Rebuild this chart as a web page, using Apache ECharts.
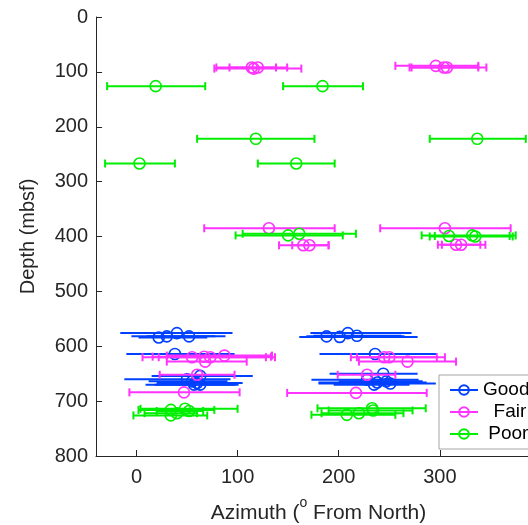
<!DOCTYPE html>
<html>
<head>
<meta charset="utf-8">
<script src="https://cdn.jsdelivr.net/npm/echarts@6/dist/echarts.min.js"></script>
<style>html,body{margin:0;padding:0;background:#fff}#c{width:528px;height:525px}</style>
</head>
<body>
<div id="c"></div>
<script>
// [azimuth, depth, lower, upper]
const goodData = [
  [22, 584, 2, 70], [30, 582, -5, 78], [40, 576, -16, 95], [52, 582, 10, 88],
  [188, 582, 168, 265], [201, 583, 161, 278], [209, 576, 172, 272], [218, 581, 175, 262],
  [38, 614, -10, 97], [236, 614, 181, 297],
  [63, 654, 15, 115], [50, 660, -12, 93], [55, 664, 12, 90], [57, 670, 9, 101], [63, 670, 18, 98], [60, 667, 20, 105],
  [244, 650, 191, 278], [228, 661, 173, 279], [238, 666, 180, 287], [251, 668, 180, 296], [235, 670, 195, 270], [247, 664, 200, 283]
];
const fairData = [
  [114, 92, 79, 149], [120, 92, 92, 138], [116, 94, 77, 163],
  [296, 89, 256, 338], [304, 92, 270, 346], [307, 92, 272, 338],
  [131, 385, 67, 196], [305, 385, 241, 370],
  [165, 416, 141, 190], [171, 416, 154, 190], [316, 415, 298, 340], [321, 415, 302, 345],
  [55, 620, 6, 137], [67, 619, 16, 133], [73, 620, 22, 128], [87, 617, 30, 134], [68, 628, 30, 109],
  [245, 620, 212, 305], [250, 620, 218, 297], [268, 628, 220, 316],
  [60, 652, 23, 97], [228, 652, 199, 256],
  [47, 684, -7, 102], [217, 685, 149, 287]
];
const poorData = [
  [19, 126, -29, 68], [184, 126, 145, 224],
  [118, 222, 60, 176], [337, 222, 290, 385],
  [3, 267, -31, 38], [158, 267, 120, 196],
  [150, 398, 98, 204], [161, 395, 105, 217],
  [309, 399, 295, 369], [332, 398, 282, 375], [335, 400, 290, 372],
  [34, 716, 2, 77], [34, 726, -3, 70], [48, 714, 4, 100], [52, 718, 20, 66], [40, 722, 8, 60],
  [208, 725, 173, 256], [220, 722, 183, 264], [233, 713, 179, 286], [234, 717, 190, 273]
];
const seriesNames = ['Good', '  Fair', ' Poor'];
const seriesColors = ['#0040ff', '#ff33ff', '#00ee00'];
const xTicks = [0, 100, 200, 300];
const yTicks = [0, 100, 200, 300, 400, 500, 600, 700, 800];

const groups = [goodData, fairData, poorData];
const caps = [false, true, true];
const txt = '#262626';
const font = 'Liberation Sans, Arial, Helvetica, sans-serif';

const series = [];
groups.forEach((d, i) => {
  const col = seriesColors[i];
  series.push({
    name: seriesNames[i] + '_bars',
    type: 'custom',
    data: d,
    encode: { x: [0, 2, 3], y: 1 },
    z: 2 + i * 2,
    renderItem: function (params, api) {
      const y = api.value(1), lo = api.value(2), hi = api.value(3);
      const p1 = api.coord([lo, y]);
      const p2 = api.coord([hi, y]);
      const ch = [{ type: 'line', shape: { x1: p1[0], y1: p1[1], x2: p2[0], y2: p2[1] }, style: { stroke: col, lineWidth: 2 } }];
      if (caps[i]) {
        ch.push({ type: 'line', shape: { x1: p1[0], y1: p1[1] - 4, x2: p1[0], y2: p1[1] + 4 }, style: { stroke: col, lineWidth: 2 } });
        ch.push({ type: 'line', shape: { x1: p2[0], y1: p2[1] - 4, x2: p2[0], y2: p2[1] + 4 }, style: { stroke: col, lineWidth: 2 } });
      }
      return { type: 'group', children: ch };
    },
    silent: true
  });
  series.push({
    name: seriesNames[i],
    type: 'line',
    data: d.map(r => [r[0], r[1]]),
    symbol: 'circle',
    symbolSize: 11,
    showSymbol: true,
    z: 3 + i * 2,
    itemStyle: { color: 'rgba(255,255,255,0)', borderColor: col, borderWidth: 1.6 },
    lineStyle: { width: 0, opacity: 0, color: col },
    animation: false
  });
});

const chart = echarts.init(document.getElementById('c'));
chart.setOption({
  animation: false,
  backgroundColor: '#fff',
  grid: { left: 96, top: 17, width: 445, height: 439, containLabel: false, outerBoundsMode: 'none' },
  legend: {
    data: seriesNames,
    orient: 'vertical',
    left: 439, top: 375,
    padding: [5, 10, 5, 10],
    itemGap: 2,
    itemWidth: 28, itemHeight: 12,
    backgroundColor: '#fff',
    borderColor: '#a6a6a6', borderWidth: 1, borderRadius: 0,
    textStyle: { fontSize: 19, color: '#000', fontFamily: font, lineHeight: 20 },
    lineStyle: { width: 2, opacity: 1 },
    selectedMode: false
  },
  xAxis: {
    type: 'value', min: -40, max: 400, interval: 20, position: 'bottom',
    name: '{n|Azimuth (}{sup|o}{n| From North)}',
    nameLocation: 'middle', nameGap: 40,
    nameTextStyle: {
      fontSize: 21, color: txt, fontFamily: font,
      rich: {
        n: { fontSize: 21, color: txt, fontFamily: font, lineHeight: 28, verticalAlign: 'bottom' },
        sup: { fontSize: 14, color: txt, fontFamily: font, lineHeight: 28, verticalAlign: 'top' }
      }
    },
    axisLine: { onZero: false, lineStyle: { color: txt, width: 1 } },
    axisTick: { inside: true, length: 6, lineStyle: { color: txt }, customValues: xTicks },
    axisLabel: { fontSize: 20, color: txt, fontFamily: font, margin: 11, customValues: xTicks },
    splitLine: { show: false }
  },
  yAxis: {
    type: 'value', inverse: true, min: 0, max: 800, interval: 100, position: 'left',
    name: 'Depth (mbsf)',
    nameLocation: 'middle', nameGap: 58, nameRotate: 90,
    nameTextStyle: { fontSize: 20, color: txt, fontFamily: font },
    axisLine: { show: true, onZero: false, lineStyle: { color: txt, width: 1 } },
    axisTick: { show: true, inside: true, length: 6, lineStyle: { color: txt }, customValues: yTicks },
    axisLabel: { fontSize: 20, color: txt, fontFamily: font, margin: 8, customValues: yTicks },
    splitLine: { show: false }
  },
  series: series
});
</script>
</body>
</html>
